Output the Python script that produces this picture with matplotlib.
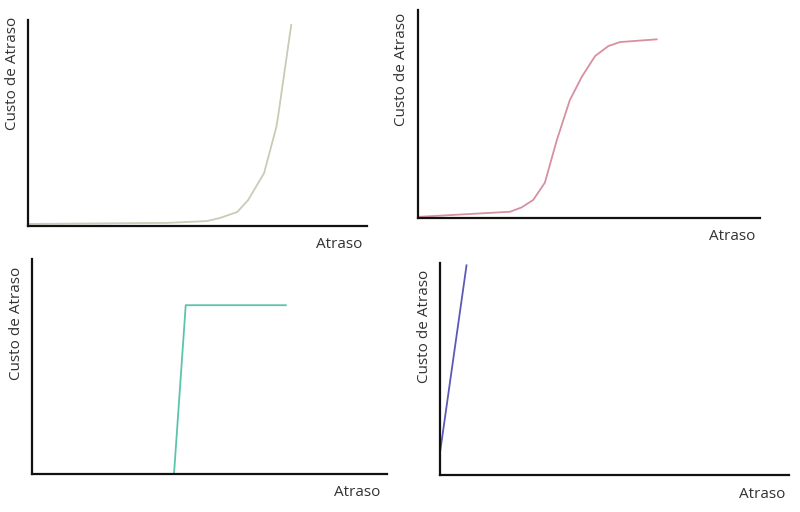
import matplotlib.pyplot as plt

plt.rcParams['font.family'] = ['Open Sans', 'DejaVu Sans']

# curva exponencial
x_exp = [0, 41, 52.8, 56.6, 61.7, 64.9, 69.6, 73.2, 73.7, 77.6]
y_exp = [1, 1.5, 2.4, 3.9, 6.8, 12.6, 25.7, 48, 52.9, 97.6]

# curva em S
x_sig = [0.6, 26.9, 30.3, 33.7, 37.1, 40.6, 44.4, 47.9, 51.8, 55.7, 59.1, 69.8]
y_sig = [0.6, 3.0, 5.1, 8.7, 17.0, 37.5, 56.7, 67.9, 77.9, 82.7, 84.6, 85.9]

# degrau
x_step = [40.0, 43.3, 71.5]
y_step = [0, 78.5, 78.5]

# linear
x_lin = [0, 7.6]
y_lin = [10.5, 98.9]

fig = plt.figure(figsize=(8, 5.12), dpi=100)

panels = [
    # (axes rect, x, y, color, atraso pos, custo pos)
    ([0.035, 0.5586, 0.424, 0.4023], x_exp, y_exp, '#c9cbb6', (362, 244), (13, 73)),
    ([0.5225, 0.5742, 0.4275, 0.40625], x_sig, y_sig, '#d7909f', (755, 236), (402, 69)),
    ([0.04, 0.0742, 0.44375, 0.42], x_step, y_step, '#5cc4ad', (380, 493), (17, 323)),
    ([0.55, 0.0723, 0.43625, 0.414], x_lin, y_lin, '#5a5ab8', (785, 494), (425, 326)),
]

for rect, xs, ys, color, atraso_pos, custo_pos in panels:
    ax = fig.add_axes(rect)
    ax.plot(xs, ys, color=color, linewidth=1.3, solid_joinstyle='round')
    ax.set_xlim(0, 100)
    ax.set_ylim(0, 100)
    ax.set_xticks([])
    ax.set_yticks([])
    for side in ['top', 'right']:
        ax.spines[side].set_visible(False)
    for side in ['left', 'bottom']:
        ax.spines[side].set_linewidth(1.6)
        ax.spines[side].set_color('#111111')
    ax.patch.set_alpha(0)

    fig.text(atraso_pos[0] / 800, 1 - atraso_pos[1] / 512, 'Atraso',
             ha='right', va='center', fontsize=11, color='#333333')
    fig.text(custo_pos[0] / 800, 1 - custo_pos[1] / 512, 'Custo de Atraso',
             ha='center', va='center', rotation=90, fontsize=11, color='#333333')

fig.savefig('out.png', dpi=100, facecolor='white')
